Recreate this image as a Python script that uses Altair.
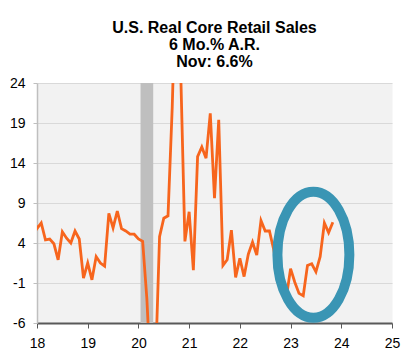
import altair as alt
import pandas as pd

# ---- data ----
start_year = 2017
start_month = 12  # first value is Dec 2017 (clipped at the left edge)
sales_6m_ar = [
    7.3,                                                            # Dec 17
    5.8, 6.5, 4.4, 4.5, 3.9, 1.9, 5.4, 4.6, 4.0, 5.5, 4.5, -0.4,     # 2018
    1.5, -0.6, 2.3, 1.5, 1.1, 7.7, 5.9, 8.0, 5.8, 5.5, 5.1, 5.1,     # 2019
    4.5, 4.2, -3.0, -14.0, -12.0, 4.8, 7.1, 7.4, 21.0, 40.0, 25.5, 4.2,  # 2020
    7.9, 0.6, 14.8, 16.0, 14.6, 20.2, 9.6, 19.4, 1.2, 1.9, 5.6, -0.3,  # 2021
    2.1, -0.2, 2.6, 4.1, 2.5, 6.8, 5.5, 5.5, 3.2, 0.0, -1.5, -2.8,   # 2022
    0.8, -0.9, -2.3, -2.6, 1.2, 1.4, 0.4, 2.3, 6.5, 5.3, 6.6,        # 2023 (Jan-Nov)
]

recession_start = (2020, 2)   # Feb 2020
recession_end = (2020, 4)     # Apr 2020

x_ticks = [18, 19, 20, 21, 22, 23, 24, 25]
y_ticks = [-6, -1, 4, 9, 14, 19, 24]

title_lines = ["U.S. Real Core Retail Sales", "6 Mo.% A.R.", "Nov: 6.6%"]

highlight_center_x = 23.45
highlight_center_y = 2.54

# ---- tables ----
def to_t(year, month):
    return (year - 2000) + (month - 1) / 12.0

rows = []
for i, v in enumerate(sales_6m_ar):
    m = start_month - 1 + i
    rows.append({"t": to_t(start_year + m // 12, m % 12 + 1), "v": v})
df = pd.DataFrame(rows)

rec_df = pd.DataFrame([{
    "x1": to_t(*recession_start) - 1 / 24.0,
    "x2": to_t(*recession_end) + 1 / 24.0,
}])

ell_df = pd.DataFrame([{"x": highlight_center_x, "y": highlight_center_y}])

FONT = "Liberation Sans"

x_scale = alt.Scale(domain=[18, 25], nice=False, zero=False)
y_scale = alt.Scale(domain=[-6, 24], nice=False, zero=False)

x_axis = alt.Axis(
    values=x_ticks, format="d", title=None, grid=False,
    domainColor="#595959", domainWidth=2, tickColor="#595959", tickSize=5,
    labelFontSize=14, labelFont=FONT, labelColor="black", labelPadding=8,
    labelFlush=False,
)
y_axis = alt.Axis(
    values=y_ticks, title=None, grid=True, gridColor="#d9d9d9",
    domainColor="#bfbfbf", domainWidth=1.5, tickColor="#bfbfbf", tickSize=4,
    labelFontSize=14, labelFont=FONT, labelColor="black", labelPadding=8,
    labelExpr="datum.value < 0 ? '-' + abs(datum.value) : '' + datum.value",
)

rec = alt.Chart(rec_df).mark_rect(color="#bfbfbf").encode(
    x=alt.X("x1:Q", scale=x_scale, axis=x_axis),
    x2="x2:Q",
)

line = alt.Chart(df).mark_line(color="#f7651d", strokeWidth=2.8, clip=True).encode(
    x=alt.X("t:Q", scale=x_scale, axis=x_axis),
    y=alt.Y("v:Q", scale=y_scale, axis=y_axis),
)

ellipse_path = "M -0.571 0 A 0.571 1 0 1 0 0.571 0 A 0.571 1 0 1 0 -0.571 0 Z"
ellipse = alt.Chart(ell_df).mark_point(
    shape=ellipse_path, size=15876, filled=False, strokeWidth=10,
    color="#3a95b4", opacity=1,
).encode(
    x=alt.X("x:Q", scale=x_scale, axis=x_axis),
    y=alt.Y("y:Q", scale=y_scale, axis=y_axis),
)

chart = alt.layer(rec, line, ellipse).properties(
    width=355,
    height=240,
    title=alt.TitleParams(
        text=title_lines, font=FONT, fontSize=16, fontWeight="bold",
        color="black", anchor="middle", lineHeight=17, offset=6,
    ),
    autosize=alt.AutoSizeParams(type="none"),
    padding={"left": 29, "top": 75, "right": 17, "bottom": 31},
).configure_view(fill="#f2f2f2", stroke="transparent")

chart.save("out.html", embed_options={"renderer": "svg", "actions": False})
